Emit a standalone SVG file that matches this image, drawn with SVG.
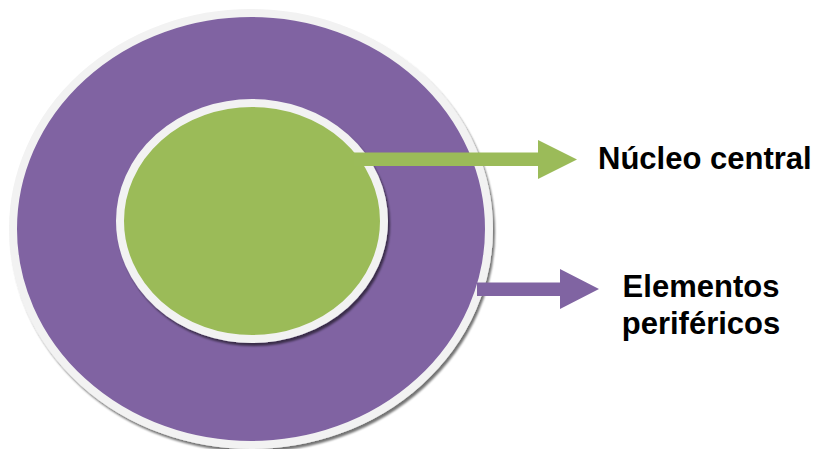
<svg xmlns="http://www.w3.org/2000/svg" width="820" height="449" viewBox="0 0 820 449">
<style>
.lbl{font-family:"Liberation Sans",Arial,sans-serif;font-weight:bold;font-size:31px;fill:#000}
.ring{stroke:#F2F2F2;stroke-width:8}
</style>
<defs>
<filter id="sh" x="-10%" y="-10%" width="120%" height="120%">
<feGaussianBlur in="SourceAlpha" stdDeviation="0.8"/>
<feOffset dx="2" dy="3"/>
<feComponentTransfer><feFuncA type="linear" slope="0.55"/></feComponentTransfer>
<feMerge><feMergeNode/><feMergeNode in="SourceGraphic"/></feMerge>
</filter>
</defs>
<g id="outer">
<ellipse cx="251" cy="229" rx="238" ry="216" fill="#8064A2" class="ring" filter="url(#sh)"/>
</g>
<g id="inner">
<ellipse cx="252" cy="221" rx="132" ry="118" fill="#9BBB59" class="ring" filter="url(#sh)"/>
</g>
<g id="connectors">
<polygon points="354,152.5 538,152.5 538,140 577,159.5 538,179 538,166 354,166" fill="#9BBB59"/>
<polygon points="477,282.5 560,282.5 560,269 599,289 560,309 560,296 477,296" fill="#8064A2"/>
</g>
<g id="label-nucleo">
<text class="lbl" x="598" y="169">Núcleo central</text>
</g>
<g id="label-elementos">
<text class="lbl" x="701" y="297" text-anchor="middle">Elementos</text>
<text class="lbl" x="701" y="334" text-anchor="middle">periféricos</text>
</g>
</svg>
